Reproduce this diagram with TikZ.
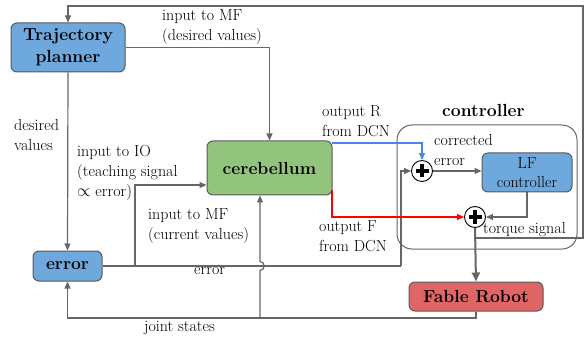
\documentclass[tikz,border=0pt]{standalone}
\usetikzlibrary{arrows.meta}
\definecolor{bblue}{HTML}{6FA8DC}
\definecolor{bgreen}{HTML}{93C47D}
\definecolor{bred}{HTML}{E06666}
\definecolor{lgray}{HTML}{666666}
\definecolor{bord}{HTML}{595959}
\definecolor{lblue}{HTML}{4A86E8}
\begin{document}
\begin{tikzpicture}[x=1pt,y=-1pt,
  box/.style={draw=bord, line width=1pt, rounded corners=6pt, align=center, inner sep=0pt},
  bigtxt/.style={font=\fontsize{17.5}{22}\selectfont\bfseries},
  lbl/.style={align=left, inner sep=0pt, anchor=north west, font=\fontsize{16}{20}\selectfont},
  ln/.style={draw=lgray, line width=1.2pt},
  arr/.style={ln, -{Triangle[length=7pt,width=6pt]}},
  sumnode/.style={circle, draw=black, fill=white, line width=0.9pt, minimum size=21pt, inner sep=0pt,
    path picture={\draw[line width=4.5pt] ([xshift=-6.5pt]path picture bounding box.center) -- ([xshift=6.5pt]path picture bounding box.center);
                  \draw[line width=4.5pt] ([yshift=-6.5pt]path picture bounding box.center) -- ([yshift=6.5pt]path picture bounding box.center);}}
]
\useasboundingbox (0,0) rectangle (586,339);
% container
\draw[draw=lgray, line width=1pt, rounded corners=15pt] (397,125) rectangle (577,249);
\node[bigtxt, inner sep=0pt, anchor=north west] (ctl) at (442,104) {controller};
% boxes
\node[box, bigtxt, fill=bblue, minimum width=114pt, minimum height=49pt] (tp) at (68,47.5) {Trajectory\\planner};
\node[box, bigtxt, fill=bblue, minimum width=69pt, minimum height=30pt] (err) at (67.5,266) {error};
\node[box, bigtxt, fill=bgreen, minimum width=125pt, minimum height=54pt] (cb) at (269.5,168) {cerebellum};
\node[box, fill=bblue, minimum width=90pt, minimum height=39pt, font=\fontsize{16}{19}\selectfont] (lf) at (527,172.5) {LF\\controller};
\node[box, bigtxt, fill=bred, minimum width=134pt, minimum height=29pt] (fr) at (476,296.5) {Fable Robot};
\node[sumnode] (s1) at (422,171) {};
\node[sumnode] (s2) at (475,217) {};
% coordinates
\coordinate (br) at (135,266);
\coordinate (ecorner) at (401,266);
\coordinate (tap) at (475,238);
\coordinate (rc) at (583,238);
\coordinate (rt) at (583,6);
\coordinate (lt) at (68,6);
\coordinate (jr) at (476,318);
\coordinate (jc) at (260,318);
% connectors
\draw[arr] (tp.east) -| (cb.north);
\draw[arr] (tp.south) -- (err.north);
\draw[ln] (err.east) -- (ecorner);
\draw[arr] (ecorner) -- (ecorner |- s1) -- (s1.west);
\draw[arr] (br) -- (135,185) -- (cb.west |- 0,185);
\draw[arr] (fr.south) -- (jr) -| (err.south);
\draw[arr] (jc) -- (260,270.5) .. controls (265.5,270.5) and (265.5,261.5) .. (260,261.5) -- (cb.south -| 260,0);
\draw[draw=lblue, line width=1.2pt, -{Triangle[length=7pt,width=6pt]}] (332,143) -| (s1.north);
\draw[draw=red, line width=1.2pt, -{Triangle[length=7pt,width=6pt]}] (332,190) -- (332,217) -- (s2.west);
\draw[arr] (s1.east) -- (lf.west |- s1);
\draw[arr] (lf.south) |- (s2.east);
\draw[ln, line width=2pt, -{Triangle[length=9pt,width=8pt]}] (s2.south) -- (fr.north);
\draw[arr] (tap) -- (rc) -- (rt) -- (lt) -- (tp.north);
% labels
\node[lbl] (l1) at (162,9) {input to MF\\(desired values)};
\node[lbl] (l2) at (14,119) {desired\\values};
\node[lbl] (l3) at (77,145) {input to IO\\(teaching signal\\$\propto$ error)};
\node[lbl] (l4) at (148,208.5) {input to MF\\(current values)};
\node[lbl] (l5) at (194,267) {error};
\node[lbl] (l6) at (144,321) {joint states};
\node[lbl] (l7) at (322,105) {output R\\from DCN};
\node[lbl] (l8) at (434,134) {corrected\\error};
\node[lbl] (l9) at (319,220) {output F\\from DCN};
\node[lbl] (l10) at (483,222) {torque signal};
\end{tikzpicture}
\end{document}
